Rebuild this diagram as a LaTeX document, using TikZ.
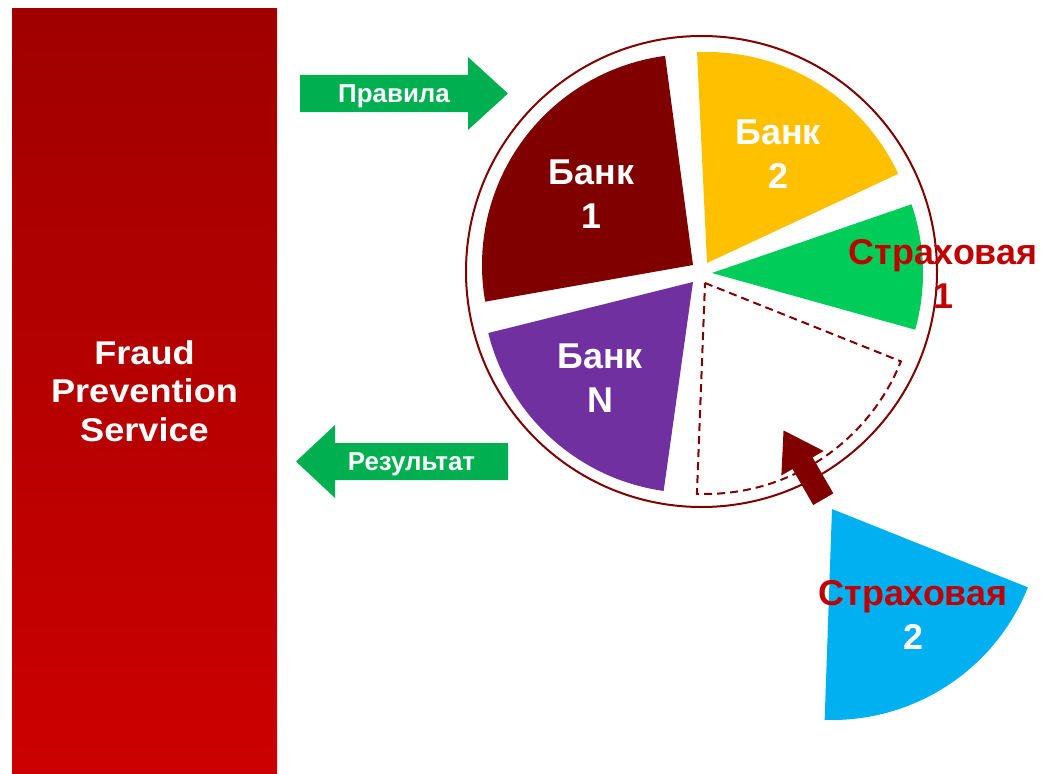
\documentclass[tikz,border=0pt]{standalone}
\usepackage{fontspec}
\setmainfont{Liberation Sans}
\newfontfamily\fpsfont{Liberation Sans}[FakeStretch=1.1]
\usetikzlibrary{arrows.meta}
\definecolor{cTop}{HTML}{A00000}
\definecolor{cBot}{HTML}{CC0000}
\definecolor{cMaroon}{HTML}{800000}
\definecolor{cGold}{HTML}{FFC000}
\definecolor{cGreenS}{HTML}{00CC5A}
\definecolor{cPurple}{HTML}{7030A0}
\definecolor{cBlue}{HTML}{00B0F0}
\definecolor{cGreenA}{HTML}{00B050}
\definecolor{cRedT}{HTML}{C00000}
\begin{document}
\begin{tikzpicture}[x=1bp,y=-1bp,
  biglbl/.style={font=\bfseries\fontsize{36}{44}\selectfont, text=white, align=center, inner sep=0pt},
  arrowlbl/.style={font=\bfseries\fontsize{26}{30}\selectfont, text=white, inner sep=0pt, anchor=base},
  greenarrow/.style={fill=cGreenA},
  slot/.style={draw=cMaroon, line width=2bp, dash pattern=on 8bp off 5bp},
  insarrow/.style={draw=cMaroon, line width=23.2bp, -{Triangle[width=46bp,length=38.4bp]}}
]
\useasboundingbox (0,0) rectangle (1043,774);

% Fraud Prevention Service column
\shade[top color=cTop, bottom color=cBot] (12,9) rectangle (277,774);
\node[font=\fpsfont\bfseries\fontsize{33}{38.5}\selectfont, text=white, align=center, inner sep=0pt] (fps) at (144.5,391) {Fraud\\Prevention\\Service};

% green arrows
\fill[greenarrow] (300,75) -- (468,75) -- (468,57) -- (508,93.5) -- (468,130) -- (468,112) -- (300,112) -- cycle;
\node[arrowlbl] (rules) at (394,102.7) {Правила};
\fill[greenarrow] (508,443) -- (335,443) -- (335,425) -- (296,461.5) -- (335,498) -- (335,480) -- (508,480) -- cycle;
\node[arrowlbl] (result) at (411.5,470.5) {Результат};

% outer circle
\coordinate (pc) at (701.5,271.5);
\draw[cMaroon, line width=2bp] (pc) circle[radius=235.5];

% sectors
\coordinate (a1) at (693,265);
\coordinate (a2) at (707,263);
\coordinate (a3) at (712,273);
\coordinate (a4) at (705,283);
\coordinate (a5) at (693,282);
\coordinate (a6) at (832,509);
\fill[cMaroon] (a1) -- ++(-97.6:211) arc[start angle=-97.6, end angle=-190, radius=211] -- cycle;
\fill[cGold] (a2) -- ++(-25:211) arc[start angle=-25, end angle=-92.7, radius=211] -- cycle;
\fill[cGreenS] (a3) -- ++(15.6:211) arc[start angle=15.6, end angle=-19, radius=211] -- cycle;
\draw[slot] (a4) -- ++(21.8:211) arc[start angle=21.8, end angle=92.2, radius=211] -- cycle;
\fill[cPurple] (a5) -- ++(98:211) arc[start angle=98, end angle=166, radius=211] -- cycle;
\fill[cBlue] (a6) -- ++(21.8:211) arc[start angle=21.8, end angle=92, radius=211] -- cycle;

% insertion arrow
\coordinate (tail) at (823.3,499.2);
\coordinate (tip) at (783.3,430);
\draw[insarrow] (tail) -- (tip);

% labels
\node[biglbl] (b1) at (591.5,194.5) {Банк\\1};
\node[biglbl] (b2) at (778,154.5) {Банк\\2};
\node[biglbl] (bn) at (600,378) {Банк\\N};
\node[biglbl, text=cRedT] (s1) at (943,274) {Страховая\\1};
\node[biglbl] (s2) at (913,615) {\textcolor{cRedT}{Страховая}\\2};
\end{tikzpicture}
\end{document}
